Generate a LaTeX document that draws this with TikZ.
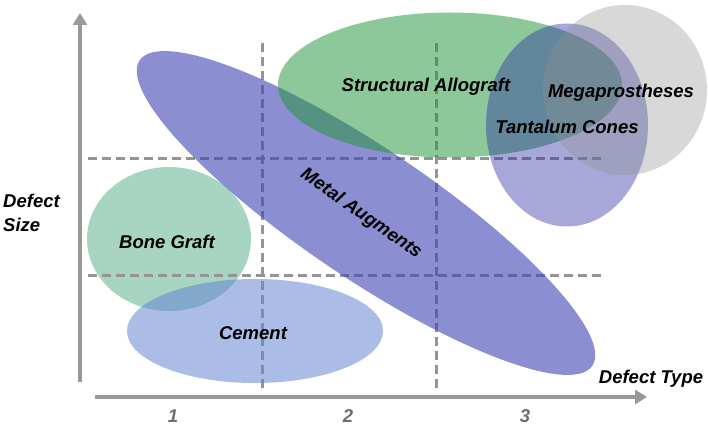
\documentclass[tikz,border=0pt]{standalone}
\usepackage{fontspec}
\setmainfont{Liberation Sans}
\usetikzlibrary{shapes.geometric,arrows.meta}

\definecolor{axisgray}{RGB}{153,153,153}
\definecolor{guidegray}{RGB}{148,148,148}
\definecolor{ticklabel}{RGB}{110,110,110}
\definecolor{bonefill}{RGB}{167,213,193}
\definecolor{cementfill}{RGB}{102,133,211}
\definecolor{metalfill}{RGB}{62,68,177}
\definecolor{allograftfill}{RGB}{36,150,60}
\definecolor{tantalumfill}{RGB}{37,37,160}
\definecolor{megafill}{RGB}{146,146,146}

\tikzset{
  region/.style={ellipse, draw=none, inner sep=0pt, outer sep=0pt},
  axisline/.style={draw=axisgray, line width=4.5pt, -{Triangle[length=12pt,width=14pt]}},
  gridline/.style={draw=guidegray, line width=3pt, dash pattern=on 9pt off 5pt},
  label/.style={font=\fontsize{18.5}{22}\selectfont\bfseries\itshape, text=black, inner sep=0pt, anchor=base},
  ticktext/.style={font=\fontsize{18.5}{22}\selectfont\bfseries\itshape, text=ticklabel, inner sep=0pt, anchor=base}
}

\begin{document}
\begin{tikzpicture}[x=1pt,y=-1pt]
\fill[white] (0,0) rectangle (708,427);
\useasboundingbox (0,0) rectangle (708,427);

% lower-left region
\node[region, fill=bonefill, minimum width=164pt, minimum height=144pt] (bone) at (169,239) {};

% grid guides
\coordinate (h1a) at (88,159);  \coordinate (h1b) at (605,159);
\coordinate (h2a) at (88,275);  \coordinate (h2b) at (602,275);
\coordinate (v1a) at (262,43);  \coordinate (v1b) at (262,392);
\coordinate (v2a) at (436,43);  \coordinate (v2b) at (436,392);
\draw[gridline] (h1a) -- (h1b);
\draw[gridline] (h2a) -- (h2b);
\draw[gridline] (v1a) -- (v1b);
\draw[gridline] (v2a) -- (v2b);

% treatment regions, translucent so the guides show through
\node[region, fill=cementfill, fill opacity=0.55, minimum width=256pt, minimum height=104pt] (cement) at (255,331) {};
\node[region, fill=metalfill, fill opacity=0.6, minimum width=546pt, minimum height=130pt, rotate=-34] (metal) at (366,213) {};
\node[region, fill=allograftfill, fill opacity=0.52, minimum width=344pt, minimum height=145pt] (allograft) at (450,85) {};
\node[region, fill=tantalumfill, fill opacity=0.4, minimum width=162pt, minimum height=203pt] (tantalum) at (567,125) {};
\node[region, fill=megafill, fill opacity=0.35, minimum width=164pt, minimum height=170pt] (mega) at (625,90) {};

% region labels
\node[label] (boneT) at (167,249) {Bone Graft};
\node[label] (cementT) at (253,339) {Cement};
\node[label, anchor=center, rotate=-35] (metalT) at (361,214) {Metal Augments};
\node[label] (allograftT) at (426,92) {Structural Allograft};
\node[label] (megaT) at (621,98) {Megaprostheses};
\node[label] (tantalumT) at (567,134) {Tantalum Cones};

% axes
\coordinate (ybot) at (80,382);
\coordinate (ytop) at (80,13);
\coordinate (xleft) at (95,397);
\coordinate (xright) at (647,397);
\draw[axisline] (ybot) -- (ytop);
\draw[axisline] (xleft) -- (xright);

% axis titles and ticks
\node[label, anchor=base west] (ysizeA) at (3,208) {Defect};
\node[label, anchor=base west] (ysizeB) at (3,232) {Size};
\node[label] (xtitle) at (651,383) {Defect Type};
\node[ticktext] (t1) at (173,422) {1};
\node[ticktext] (t2) at (348,422) {2};
\node[ticktext] (t3) at (525,422) {3};
\end{tikzpicture}
\end{document}
